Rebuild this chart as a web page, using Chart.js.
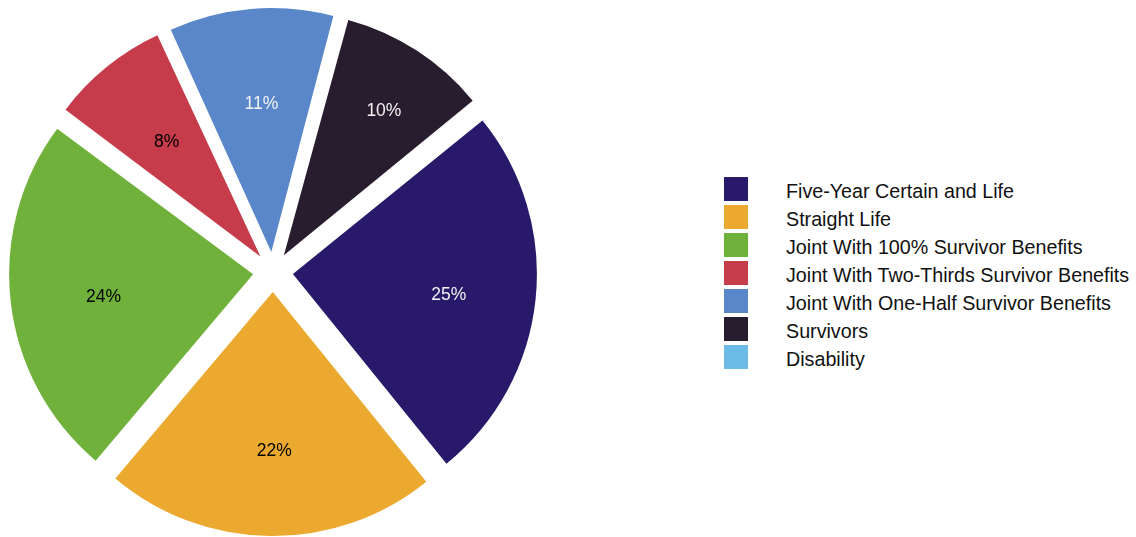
<!DOCTYPE html>
<html>
<head>
<meta charset="utf-8">
<script src="https://cdn.jsdelivr.net/npm/chart.js@4.4.1/dist/chart.umd.min.js"></script>
<style>
  html, body { margin: 0; padding: 0; background: #fff; }
  #wrap { position: relative; width: 1136px; height: 537px; overflow: hidden; }
  #pieBox { position: absolute; left: 0; top: 0; width: 546px; height: 537px; }
  #legend { position: absolute; left: 724px; top: 177px; font-family: "Liberation Sans", Arial, sans-serif; font-size: 19.7px; color: #111; }
  .item { position: relative; height: 28px; }
  .item .box { position: absolute; left: 0; top: 0; width: 24px; height: 24px; }
  .item .txt { position: absolute; left: 62px; top: 2px; line-height: 24px; white-space: nowrap; }
</style>
</head>
<body>
<div id="wrap">
  <div id="pieBox"><canvas id="pie"></canvas></div>
  <div id="legend"></div>
</div>
<script>
// data
const labels = [
  "Five-Year Certain and Life",
  "Straight Life",
  "Joint With 100% Survivor Benefits",
  "Joint With Two-Thirds Survivor Benefits",
  "Joint With One-Half Survivor Benefits",
  "Survivors",
  "Disability"
];
const shares = [25, 22, 24, 8, 11, 10, 0];
const colors = ["#28196a", "#ebaa2f", "#70b13c", "#c63c4a", "#5a86ca", "#281d2e", "#6cbae6"];
const labelColors = ["#f2f2f2", "#000", "#000", "#000", "#f2f2f2", "#f2f2f2", "#000"];

// legend (html)
const legendEl = document.getElementById("legend");
labels.forEach((l, i) => {
  const row = document.createElement("div");
  row.className = "item";
  row.innerHTML = '<div class="box" style="background:' + colors[i] + '"></div><div class="txt">' + l + '</div>';
  legendEl.appendChild(row);
});

// keep exploded slices at the same radius as the big ones
const baseDraw = Chart.ArcElement.prototype.draw;
Chart.ArcElement.prototype.draw = function (ctx) {
  const off = (this.options.offset || 0) / 4;
  const fix = 1 - Math.sin(Math.min(Math.PI, this.circumference || 0));
  const r = this.outerRadius;
  this.outerRadius = r - off * fix;
  baseDraw.call(this, ctx);
  this.outerRadius = r;
};

// percent labels on the slices
const pctLabels = {
  id: "pctLabels",
  afterDatasetsDraw(chart, args, opts) {
    const ctx = chart.ctx;
    const meta = chart.getDatasetMeta(0);
    const total = shares.reduce((a, b) => a + b, 0);
    ctx.save();
    ctx.font = "17.5px 'Liberation Sans', Arial, sans-serif";
    ctx.textAlign = "center";
    ctx.textBaseline = "middle";
    meta.data.forEach((arc, i) => {
      if (!shares[i]) return;
      const mid = (arc.startAngle + arc.endAngle) / 2;
      const shift = (arc.options.offset || 0) / 4;
      const f = (opts.radius && opts.radius[i]) || opts.defaultRadius;
      const d = shift + arc.outerRadius * f;
      ctx.fillStyle = labelColors[i];
      ctx.fillText(Math.round(shares[i] / total * 100) + "%",
        arc.x + Math.cos(mid) * d + opts.dx, arc.y + Math.sin(mid) * d + opts.dy);
    });
    ctx.restore();
  }
};

new Chart(document.getElementById("pie").getContext("2d"), {
  type: "pie",
  data: {
    labels: labels,
    datasets: [{
      data: shares,
      backgroundColor: colors,
      borderWidth: 0,
      offset: 80
    }]
  },
  options: {
    responsive: true,
    maintainAspectRatio: false,
    animation: false,
    rotation: 51,
    radius: 244,
    layout: { padding: { top: 7 } },
    plugins: {
      legend: { display: false },
      tooltip: { enabled: false },
      pctLabels: { defaultRadius: 0.63, radius: { 5: 0.73 }, dx: 3, dy: 5 }
    }
  },
  plugins: [pctLabels]
});
</script>
</body>
</html>
